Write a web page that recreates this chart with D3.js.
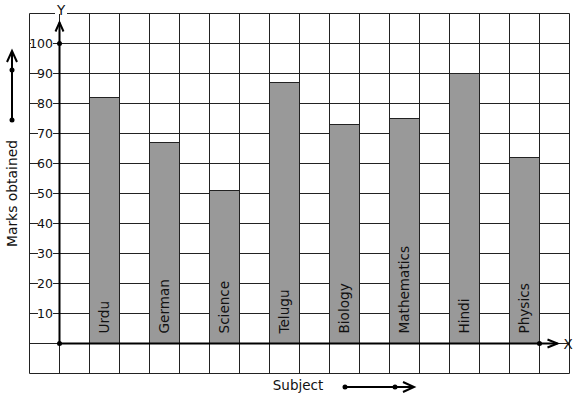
<!DOCTYPE html>
<html>
<head>
<meta charset="utf-8">
<script src="https://cdn.jsdelivr.net/npm/d3@7"></script>
<style>
  body { margin: 0; background: #fff; }
  text { font-family: "DejaVu Sans", sans-serif; fill: #111; }
</style>
</head>
<body>
<div id="chart"></div>
<script>
// marks per subject
var subjects = ["Urdu", "German", "Science", "Telugu", "Biology", "Mathematics", "Hindi", "Physics"];
var marks = [82, 67, 51, 87, 73, 75, 90, 62];
var yTicks = [10, 20, 30, 40, 50, 60, 70, 80, 90, 100];

var width = 577, height = 399;

var svg = d3.select("#chart")
  .append("svg")
    .attr("width", width)
    .attr("height", height);

// grid units: one cell = 1 unit on x, 10 marks on y
var x = d3.scaleLinear().domain([-1, 17]).range([29.5, 569.5]);
var y = d3.scaleLinear().domain([-10, 110]).range([373.5, 13.5]);

var grid = svg.append("g").attr("stroke", "#222").attr("stroke-width", 1);
grid.selectAll("line.v")
  .data(d3.range(-1, 18))
  .enter().append("line")
    .attr("x1", function(d) { return x(d); })
    .attr("x2", function(d) { return x(d); })
    .attr("y1", y(110))
    .attr("y2", y(-10));
grid.selectAll("line.h")
  .data(d3.range(-10, 111, 10))
  .enter().append("line")
    .attr("y1", function(d) { return y(d); })
    .attr("y2", function(d) { return y(d); })
    .attr("x1", x(-1))
    .attr("x2", x(17));

// bars
svg.append("g").selectAll("rect")
  .data(marks)
  .enter().append("rect")
    .attr("x", function(d, i) { return x(2 * i + 1); })
    .attr("width", x(2) - x(1))
    .attr("y", function(d) { return y(d); })
    .attr("height", function(d) { return y(0) - y(d); })
    .attr("fill", "#999")
    .attr("stroke", "#222")
    .attr("stroke-width", 1);

// bar captions
svg.append("g").selectAll("text")
  .data(subjects)
  .enter().append("text")
    .attr("transform", function(d, i) {
      return "translate(" + (x(2 * i + 1.5) + 4.5) + "," + (y(0) - 10) + ") rotate(-90)";
    })
    .style("font-size", "13.6px")
    .text(function(d) { return d; });

// y tick labels with white background
var ticks = svg.append("g").selectAll("g")
  .data(yTicks)
  .enter().append("g")
    .attr("transform", function(d) { return "translate(0," + y(d) + ")"; });
ticks.append("rect")
  .attr("x", function(d) { return d == 100 ? 31 : 38; })
  .attr("width", function(d) { return d == 100 ? 22 : 15; })
  .attr("y", -6)
  .attr("height", 12)
  .attr("fill", "#fff");
ticks.append("text")
  .attr("x", 53)
  .attr("dy", "0.36em")
  .attr("text-anchor", "end")
  .style("font-size", "12.5px")
  .text(function(d) { return d; });

// axes
var axes = svg.append("g").attr("stroke", "#000").attr("stroke-width", 2).attr("fill", "none");
axes.append("line")
  .attr("x1", x(0)).attr("x2", x(0))
  .attr("y1", y(0)).attr("y2", y(107));
axes.append("path")
  .attr("d", "M" + (x(0) - 4) + "," + (y(107) + 9) + "L" + x(0) + "," + y(107) + "L" + (x(0) + 4) + "," + (y(107) + 9));
axes.append("line")
  .attr("x1", x(0)).attr("x2", x(16.6))
  .attr("y1", y(0)).attr("y2", y(0));
axes.append("path")
  .attr("d", "M" + (x(16.6) - 10) + "," + (y(0) - 4) + "L" + x(16.6) + "," + y(0) + "L" + (x(16.6) - 10) + "," + (y(0) + 4));

var dots = [[x(0), y(0)], [x(0), y(100)], [x(16), y(0)], [12, 70], [12, 120], [345, 387], [395, 387]];
svg.append("g").selectAll("circle")
  .data(dots)
  .enter().append("circle")
    .attr("cx", function(d) { return d[0]; })
    .attr("cy", function(d) { return d[1]; })
    .attr("r", 2.5)
    .attr("fill", "#000");

svg.append("rect").attr("x", 55).attr("y", 3).attr("width", 12).attr("height", 11).attr("fill", "#fff");
svg.append("text").attr("x", 61).attr("y", 15).attr("text-anchor", "middle").style("font-size", "13.5px").text("Y");
svg.append("text").attr("x", 568).attr("y", y(0) + 5).attr("text-anchor", "middle").style("font-size", "13.5px").text("X");

// axis titles and direction arrows
svg.append("text")
  .attr("transform", "translate(17,193.5) rotate(-90)")
  .attr("text-anchor", "middle")
  .style("font-size", "13.9px")
  .text("Marks obtained");
var side = svg.append("g").attr("stroke", "#000").attr("stroke-width", 2).attr("fill", "none");
side.append("line").attr("x1", 12).attr("x2", 12).attr("y1", 120).attr("y2", 51);
side.append("path").attr("d", "M7,62L12,51L17,62");

svg.append("text")
  .attr("x", 298)
  .attr("y", 390)
  .attr("text-anchor", "middle")
  .style("font-size", "13.5px")
  .text("Subject");
side.append("line").attr("x1", 345).attr("x2", 414).attr("y1", 387).attr("y2", 387);
side.append("path").attr("d", "M403,382L414,387L403,392");
</script>
</body>
</html>
